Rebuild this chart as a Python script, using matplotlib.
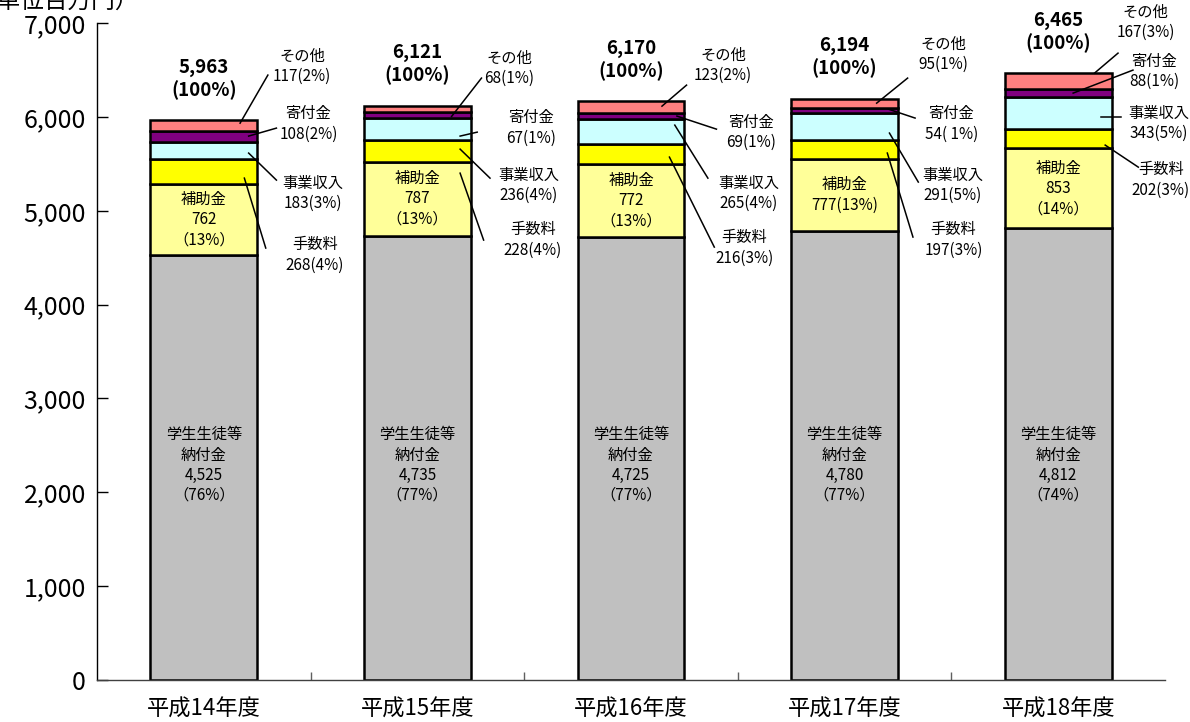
#帰属収入の推移 積み上げ棒グラフ
import matplotlib
matplotlib.use('Agg')
import matplotlib.pyplot as plt
import numpy as np

plt.rcParams['font.family'] = ['Noto Sans CJK JP', 'DejaVu Sans']

years = ['平成14年度', '平成15年度', '平成16年度', '平成17年度', '平成18年度']

gakusei = [4525, 4735, 4725, 4780, 4812]   # 学生生徒等納付金
hojokin = [762, 787, 772, 777, 853]        # 補助金
tesuryo = [268, 228, 216, 197, 202]        # 手数料
jigyo = [183, 236, 265, 291, 343]          # 事業収入
kifu = [108, 67, 69, 54, 88]               # 寄付金
sonota = [117, 68, 123, 95, 167]           # その他
totals = [5963, 6121, 6170, 6194, 6465]

gakusei_pct = ['76%', '77%', '77%', '77%', '74%']
hojokin_pct = ['13%', '13%', '13%', '13%', '14%']
tesuryo_pct = ['4%', '4%', '3%', '3%', '3%']
jigyo_pct = ['3%', '4%', '4%', '5%', '5%']
kifu_pct = ['2%', '1%', '1%', ' 1%', '1%']
sonota_pct = ['2%', '1%', '2%', '1%', '3%']

names = ['学生生徒等納付金', '補助金', '手数料', '事業収入', '寄付金', 'その他']
series = [gakusei, hojokin, tesuryo, jigyo, kifu, sonota]
colors = ['#C0C0C0', '#FFFF99', '#FFFF00', '#CCFFFF', '#800080', '#FF8080']

# 引き出し線の配置 (文字dx, 文字y, 始点dx, 始点y, 終点dx, 終点y)
callouts = [
    {'その他': (0.46, 6542, 0.17, 5934, 0.30, 6446),
     '寄付金': (0.49, 5924, 0.21, 5796, 0.34, 5881),
     '事業収入': (0.51, 5189, 0.21, 5615, 0.34, 5327),
     '手数料': (0.52, 4528, 0.19, 5348, 0.29, 4603)},
    {'その他': (0.43, 6520, 0.16, 6005, 0.30, 6414),
     '寄付金': (0.53, 5881, 0.20, 5796, 0.28, 5838),
     '事業収入': (0.52, 5274, 0.20, 5657, 0.34, 5348),
     '手数料': (0.54, 4688, 0.20, 5401, 0.31, 4688)},
    {'その他': (0.43, 6552, 0.145, 6115, 0.26, 6339),
     '寄付金': (0.56, 5838, 0.215, 6009, 0.40, 5870),
     '事業収入': (0.55, 5189, 0.205, 5913, 0.36, 5348),
     '手数料': (0.53, 4603, 0.18, 5572, 0.39, 4613)},
    {'その他': (0.46, 6669, 0.15, 6147, 0.295, 6414),
     '寄付金': (0.50, 5924, 0.205, 6083, 0.33, 5988),
     '事業収入': (0.505, 5274, 0.21, 5828, 0.345, 5306),
     '手数料': (0.51, 4688, 0.20, 5615, 0.32, 4720)},
    {'その他': (0.41, 7010, 0.17, 6467, 0.28, 6680),
     '寄付金': (0.45, 6488, 0.07, 6254, 0.35, 6499),
     '事業収入': (0.47, 5934, 0.20, 5998, 0.295, 5998),
     '手数料': (0.48, 5327, 0.22, 5700, 0.375, 5465)},
]

fig = plt.figure(figsize=(11.9, 7.22), dpi=100)
ax = fig.add_axes([0.0815, 0.0582, 0.8975, 0.9098])

x = np.arange(len(years))
bottom = np.zeros(len(years))
for vals, c in zip(series, colors):
    ax.bar(x, vals, 0.5, bottom=bottom, color=c, edgecolor='black', linewidth=1.8, zorder=2)
    bottom += np.array(vals)

ax.set_xlim(-0.5, len(years) - 0.5)
ax.set_ylim(0, 7000)
ax.set_yticks(range(0, 7001, 1000))
ax.set_yticklabels(['{:,}'.format(v) for v in range(0, 7001, 1000)], fontsize=18)
ax.set_xticks(x)
ax.set_xticklabels(years, fontsize=16)
ax.set_xticks(x[:-1] + 0.5, minor=True)
ax.tick_params(axis='x', which='major', length=0, pad=13)
ax.tick_params(axis='x', which='minor', direction='in', length=6, width=1, color='#606060')
ax.tick_params(axis='y', direction='in', length=8, width=1, pad=8)
ax.spines['top'].set_visible(False)
ax.spines['right'].set_visible(False)
ax.spines['left'].set_linewidth(1)
ax.spines['bottom'].set_linewidth(1)
ax.spines['bottom'].set_color('#404040')

pct_map = {'手数料': tesuryo_pct, '事業収入': jigyo_pct, '寄付金': kifu_pct, 'その他': sonota_pct}
val_map = {'手数料': tesuryo, '事業収入': jigyo, '寄付金': kifu, 'その他': sonota}

for i in range(len(years)):
    # 合計
    ax.text(x[i], totals[i] + 440, '{:,}\n({})'.format(totals[i], '100%'),
            ha='center', va='center', fontsize=13.5, fontweight='bold', linespacing=1.2)
    # 学生生徒等納付金
    ax.text(x[i], 2290, '学生生徒等\n納付金\n{:,}\n（{}）'.format(gakusei[i], gakusei_pct[i]),
            ha='center', va='center', fontsize=11, linespacing=1.25)
    # 補助金
    mid = gakusei[i] + hojokin[i] / 2
    if i == 3:
        s = '補助金\n{}({})'.format(hojokin[i], hojokin_pct[i])
    else:
        s = '補助金\n{}\n（{}）'.format(hojokin[i], hojokin_pct[i])
    ax.text(x[i], mid, s, ha='center', va='center', fontsize=11, linespacing=1.25)
    # 引き出し線
    for name, (tdx, ty, sdx, sy, edx, ey) in callouts[i].items():
        ax.plot([x[i] + sdx, x[i] + edx], [sy, ey], color='black', linewidth=1.1,
                zorder=3, clip_on=False)
        ax.text(x[i] + tdx, ty, '{}\n{}({})'.format(name, val_map[name][i], pct_map[name][i]),
                ha='center', va='center', fontsize=11, linespacing=1.25)

fig.text(-0.022, 0.989, '（単位百万円）', fontsize=17, ha='left', va='baseline')

fig.savefig('out.png', dpi=100)
